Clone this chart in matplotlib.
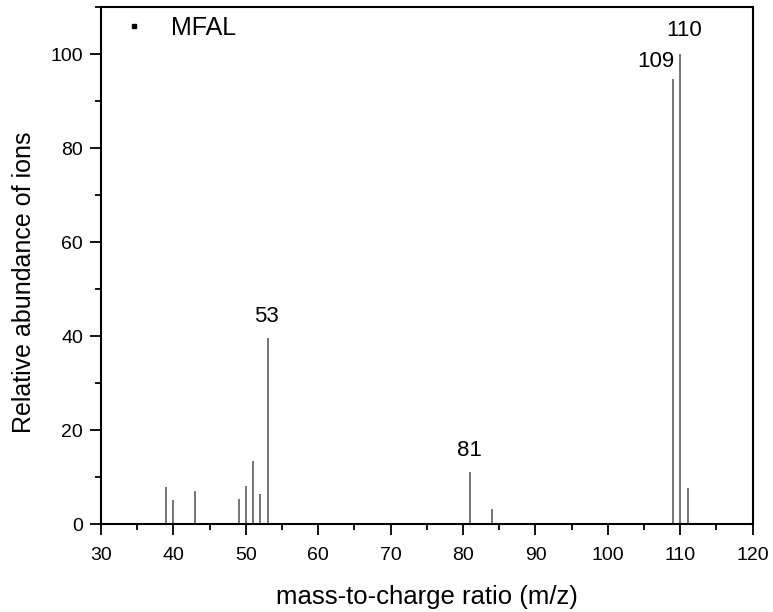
import numpy as np
import matplotlib
matplotlib.use('Agg')
import matplotlib.pyplot as plt
from matplotlib.ticker import MultipleLocator
from matplotlib.lines import Line2D

plt.rcParams['font.family'] = ['Liberation Sans', 'DejaVu Sans']

# m/z и относительная интенсивность
mz = np.array([39, 40, 43, 49, 50, 51, 52, 53, 81, 84, 109, 110, 111])
abundance = np.array([8.0, 5.1, 7.1, 5.3, 8.1, 13.4, 6.4, 39.7, 11.2, 3.3, 94.7, 100.0, 7.8])

# подписанные пики
peak_labels = ['53', '81', '109', '110']
peak_mz = [53, 81, 109, 110]

fig = plt.figure(figsize=(7.73, 6.12), dpi=100)
ax = fig.add_axes([0.1307, 0.1433, 0.843, 0.845])

ax.vlines(mz, 0, abundance, colors='#6a6a6a', linewidth=1.3)

for lab, m in zip(peak_labels, peak_mz):
    h = abundance[list(mz).index(m)]
    if lab == '109':
        ax.text(m + 0.25, h + 1.5, lab, ha='right', va='bottom', fontsize=16)
    elif lab == '110':
        ax.text(m + 0.6, h + 2.8, lab, ha='center', va='bottom', fontsize=16)
    else:
        ax.text(m - 0.1, h + 2.3, lab, ha='center', va='bottom', fontsize=16)

ax.set_xlim(30, 120)
ax.set_ylim(0, 110)
ax.xaxis.set_major_locator(MultipleLocator(10))
ax.xaxis.set_minor_locator(MultipleLocator(5))
ax.yaxis.set_major_locator(MultipleLocator(20))
ax.yaxis.set_minor_locator(MultipleLocator(10))
ax.tick_params(which='major', direction='out', length=8, width=1.3, labelsize=14, pad=5)
ax.tick_params(axis='x', which='major', pad=8)
ax.tick_params(which='minor', direction='out', length=4.5, width=1.3)
for s in ax.spines.values():
    s.set_linewidth(1.5)

ax.set_xlabel('mass-to-charge ratio (m/z)', fontsize=18.5)
ax.xaxis.set_label_coords(0.5, -0.1174)
ax.set_ylabel('Relative abundance of ions', fontsize=18)
ax.yaxis.label.set_va('center')
ax.yaxis.set_label_coords(-0.118, 0.468)

handle = Line2D([], [], linestyle='none', marker='s', markersize=2.4, color='black')
ax.legend([handle], ['MFAL'], loc='upper left', frameon=False, fontsize=18,
          handlelength=1.0, handletextpad=0.98, borderpad=0, borderaxespad=0,
          bbox_to_anchor=(0.0315, 0.983))

fig.savefig('out.png', dpi=100)
